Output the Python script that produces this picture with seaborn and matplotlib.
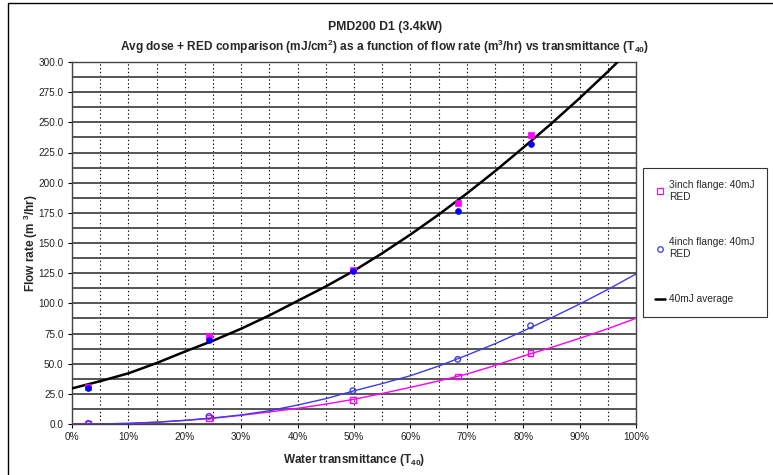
import numpy as np
import pandas as pd
import matplotlib
matplotlib.use("Agg")
import matplotlib.pyplot as plt
import seaborn as sns
from matplotlib.ticker import FuncFormatter, MultipleLocator
from matplotlib.lines import Line2D
from matplotlib.patches import Rectangle

# ---- data ----
x_points = [0.029, 0.243, 0.498, 0.684, 0.813]
red_3inch = [0.5, 5.0, 20.0, 39.2, 59.0]          # hollow squares
red_4inch = [0.5, 6.3, 27.6, 53.6, 81.4]          # hollow circles
avg_3inch = [31.0, 73.0, 128.0, 183.4, 239.4]     # filled squares
avg_4inch = [29.5, 70.0, 126.5, 176.7, 231.7]     # filled circles

curve_x = [0.00, 0.05, 0.10, 0.15, 0.20, 0.25, 0.30, 0.35, 0.40, 0.45, 0.50,
           0.55, 0.60, 0.65, 0.70, 0.75, 0.80, 0.85, 0.90, 0.95, 1.00]
curve_avg = [29.5, 35.5, 42, 50.5, 60, 69, 79, 90, 102, 114, 127,
             141.5, 157, 173.5, 191, 209.5, 229, 249, 270, 292, 315]
curve_4inch = [0, 0.1, 0.5, 1.5, 3, 5, 7.5, 11, 15.7, 21, 27.5,
               33.5, 40, 48, 57, 66.5, 77, 88, 99.4, 111.5, 124.3]
curve_3inch = [0, 0.1, 0.5, 1.5, 3, 4.8, 7.2, 10, 13, 16.5, 20.5,
               25.3, 30.4, 35.7, 41.4, 48.5, 56.3, 63.5, 71, 79, 87.6]

title_1 = "PMD200 D1 (3.4kW)"
title_2 = r"Avg dose + RED comparison (mJ/cm$^2$) as a function of flow rate (m$^3$/hr) vs transmittance (T$_{40}$)"
y_label = r"Flow rate (m $^3$/hr)"
x_label = r"Water transmittance (T$_{40}$)"
legend_labels = ["3inch flange: 40mJ\nRED", "4inch flange: 40mJ\nRED", "40mJ average"]

# ---- style ----
sns.set_style("white")
plt.rcParams["font.family"] = ["Liberation Sans", "DejaVu Sans"]
plt.rcParams["mathtext.fontset"] = "custom"
plt.rcParams["mathtext.rm"] = "Liberation Sans:bold"
plt.rcParams["mathtext.it"] = "Liberation Sans:bold"
plt.rcParams["mathtext.bf"] = "Liberation Sans:bold"
plt.rcParams["mathtext.default"] = "rm"

MAG = "#ff00ff"
BLUE = "#0000ff"
BLUE_LINE = "#3c3ce6"

W, H = 773, 475
fig = plt.figure(figsize=(W / 100, H / 100), dpi=100)
L, R, T, B = 72, 636, 62, 424
ax = fig.add_axes([L / W, 1 - B / H, (R - L) / W, (B - T) / H])

# curves
df_c = pd.DataFrame({"x": curve_x, "avg": curve_avg, "c4": curve_4inch, "c3": curve_3inch})
sns.lineplot(data=df_c, x="x", y="c3", ax=ax, color=MAG, lw=1.0, zorder=3)
sns.lineplot(data=df_c, x="x", y="c4", ax=ax, color=BLUE_LINE, lw=1.0, zorder=3)
sns.lineplot(data=df_c, x="x", y="avg", ax=ax, color="black", lw=1.8, zorder=4)

# points
df_p = pd.DataFrame({"x": x_points, "r3": red_3inch, "r4": red_4inch,
                     "a3": avg_3inch, "a4": avg_4inch})
sns.scatterplot(data=df_p, x="x", y="r3", ax=ax, marker="s", s=16,
                facecolor="none", edgecolor=MAG, linewidth=1.0, zorder=5)
sns.scatterplot(data=df_p, x="x", y="r4", ax=ax, marker="o", s=16,
                facecolor="none", edgecolor=BLUE_LINE, linewidth=1.0, zorder=5)
sns.scatterplot(data=df_p, x="x", y="a3", ax=ax, marker="s", s=18,
                color=MAG, edgecolor=MAG, linewidth=0.5, zorder=5)
sns.scatterplot(data=df_p, x="x", y="a4", ax=ax, marker="o", s=18,
                color=BLUE, edgecolor=BLUE, linewidth=0.5, zorder=5)

ax.set_xlim(0, 1)
ax.set_ylim(0, 300)
ax.xaxis.set_major_locator(MultipleLocator(0.1))
ax.xaxis.set_minor_locator(MultipleLocator(0.05))
ax.yaxis.set_major_locator(MultipleLocator(25))
ax.yaxis.set_minor_locator(MultipleLocator(12.5))
ax.xaxis.set_major_formatter(FuncFormatter(lambda v, p: f"{v*100:.0f}%"))
ax.yaxis.set_major_formatter(FuncFormatter(lambda v, p: f"{v:.1f}"))

ax.grid(True, which="both", axis="y", color="#555555", lw=1.4, zorder=1)
ax.grid(True, which="both", axis="x", color="black", lw=0.8,
        linestyle=(0, (1.2, 2.2)), zorder=1)
ax.set_axisbelow(True)

ax.tick_params(axis="both", which="major", labelsize=7.2, length=3, width=0.8,
               direction="out", color="black", pad=3, left=True, bottom=True)
ax.tick_params(axis="both", which="minor", length=0)
for lbl in ax.get_xticklabels() + ax.get_yticklabels():
    lbl.set_color("#222222")
for s in ax.spines.values():
    s.set_color("#444444")
    s.set_linewidth(1.0)

ax.set_xlabel(x_label, fontsize=8.5, fontweight="bold", labelpad=7)
ax.set_ylabel(y_label, fontsize=8.5, fontweight="bold")
ax.yaxis.set_label_coords((40 - L) / (R - L), 0.5)

cx = 385 / W
fig.text(cx, 1 - 27 / H, title_1, ha="center", va="center", fontsize=8.8, fontweight="bold")
fig.text(cx, 1 - 47 / H, title_2, ha="center", va="center", fontsize=8.6, fontweight="bold")

handles = [
    Line2D([], [], marker="s", linestyle="none", markersize=4, markerfacecolor="none",
           markeredgecolor=MAG, markeredgewidth=0.9),
    Line2D([], [], marker="o", linestyle="none", markersize=4, markerfacecolor="none",
           markeredgecolor=BLUE_LINE, markeredgewidth=0.9),
    Line2D([], [], color="black", lw=1.8),
]
leg = fig.legend(handles, legend_labels, loc="upper left",
                 bbox_to_anchor=(643 / W, 1 - 168 / H), fontsize=7.3,
                 frameon=True, fancybox=False, edgecolor="black",
                 handlelength=1.0, handletextpad=0.4, labelspacing=3.5,
                 borderpad=1.2, borderaxespad=0)
leg.get_frame().set_linewidth(0.8)

# outer chart frame (left and top visible)
fig.patches.append(Rectangle((8 / W, -0.05), 1.2, 1 - 3 / H + 0.05,
                             transform=fig.transFigure, fill=False,
                             edgecolor="black", lw=1.0))

fig.savefig("out.png", dpi=100)
